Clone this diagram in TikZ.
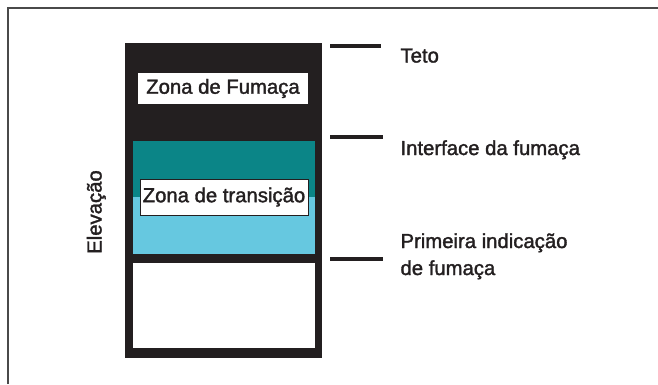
\documentclass[tikz,border=0pt]{standalone}
\usepackage{fontspec}
\setmainfont{Liberation Sans}[FakeBold=1.6]
\definecolor{smoke}{HTML}{231F20}
\definecolor{teal1}{HTML}{0B8587}
\definecolor{lblue}{HTML}{66C8E0}
\definecolor{framegray}{HTML}{4A4A4A}
\begin{document}
\begin{tikzpicture}[x=1pt,y=-1pt,
  every node/.style={font=\fontsize{20.3}{27}\selectfont, text=smoke},
  lbl/.style={anchor=base west, align=left},
  zonebox/.style={fill=white, inner sep=0pt, align=center},
  tick/.style={draw=smoke, line width=3.4pt}]
\useasboundingbox (0,0) rectangle (658,384);
% outer frame (top and left edges)
\draw[framegray, line width=1.2pt] (8,384) -- (8,8) -- (658,8);
% column
\fill[smoke] (125,42.5) rectangle (321.5,358);
\fill[teal1] (133,141) rectangle (315,197);
\fill[lblue] (133,197) rectangle (315,254);
\fill[white] (133,262.5) rectangle (315,348);
% zone labels
\node[zonebox, minimum width=170pt, minimum height=31.5pt] (fum) at (223,88.5) {Zona de Fumaça};
\node[zonebox, draw=smoke, line width=0.8pt, minimum width=168pt, minimum height=36pt] (tra) at (224,197) {Zona de transição};
% axis label
\node[rotate=90, anchor=base] (elev) at (101.5,212) {Elevação};
% right-hand labels
\node[lbl] (teto) at (397,62.5) {Teto};
\node[lbl] (inter) at (397,155) {Interface da fumaça};
\node[lbl] (prim) at (397,275) {Primeira indicação\\de fumaça};
% tick lines
\coordinate (t1a) at (330,46);   \coordinate (t1b) at (381,46);
\coordinate (t2a) at (330,137);  \coordinate (t2b) at (383,137);
\coordinate (t3a) at (330,259);  \coordinate (t3b) at (383,259);
\draw[tick] (t1a) -- (t1b);
\draw[tick] (t2a) -- (t2b);
\draw[tick] (t3a) -- (t3b);
\end{tikzpicture}
\end{document}
